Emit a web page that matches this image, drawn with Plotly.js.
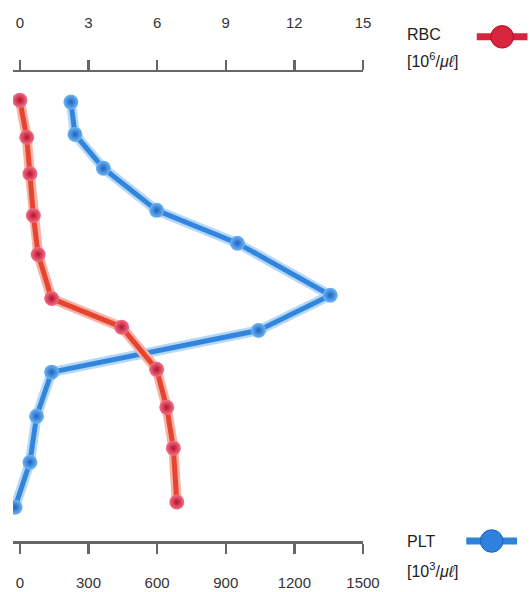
<!DOCTYPE html>
<html>
<head>
<meta charset="utf-8">
<script src="https://cdn.plot.ly/plotly-3.0.1.min.js"></script>
<style>html,body{margin:0;padding:0;background:#fff;}#chart{width:531px;height:592px;}</style>
</head>
<body>
<div id="chart"></div>
<script>
// Position down the column (0 = top axis, 100 = bottom axis)
var rbcLevel = [6.0, 13.9, 21.7, 30.6, 38.9, 48.3, 54.4, 63.4, 71.5, 80.2, 91.7];
var pltLevel = [6.4, 13.3, 20.5, 29.5, 36.5, 47.6, 55.1, 64.0, 73.4, 83.2, 92.8];
// RBC [10^6/μℓ]
var rbcValues = [0.0, 0.3, 0.44, 0.59, 0.8, 1.39, 4.45, 5.98, 6.42, 6.71, 6.86];
// PLT [10^3/μℓ]
var pltValues = [223, 241, 365, 598, 951, 1357, 1043, 139, 73, 44, -21];
var rbcTicks = [0, 3, 6, 9, 12, 15];
var pltTicks = [0, 300, 600, 900, 1200, 1500];

var RED = '#d8243c', RED_LINE = '#e5452f', RED_HALO = '#f6b2a6', RED_HI = '#f47086', RED_DARK = '#b5102c';
var BLUE = '#2f82dc', BLUE_LINE = '#3285dc', BLUE_HALO = '#b5d8f6', BLUE_HI = '#6db6f6', BLUE_DARK = '#1c62be';

var traces = [
  {x: pltValues, y: pltLevel, xaxis: 'x', yaxis: 'y', mode: 'lines', line: {color: BLUE_HALO, width: 10}, hoverinfo: 'skip', showlegend: false},
  {x: pltValues, y: pltLevel, xaxis: 'x', yaxis: 'y', mode: 'lines+markers', name: 'PLT',
   line: {color: BLUE_LINE, width: 5}, marker: {size: 15, color: BLUE_HI, gradient: {type: 'radial', color: BLUE_DARK}, line: {width: 0}}, showlegend: false},
  {x: rbcValues, y: rbcLevel, xaxis: 'x2', yaxis: 'y', mode: 'lines', line: {color: RED_HALO, width: 10}, hoverinfo: 'skip', showlegend: false},
  {x: rbcValues, y: rbcLevel, xaxis: 'x2', yaxis: 'y', mode: 'lines+markers', name: 'RBC',
   line: {color: RED_LINE, width: 5}, marker: {size: 15, color: RED_HI, gradient: {type: 'radial', color: RED_DARK}, line: {width: 0}}, showlegend: false}
];

var axisCommon = {
  showgrid: false, zeroline: false, showline: true, linecolor: '#666', linewidth: 2.5,
  ticks: 'outside', ticklen: 10, tickwidth: 2.5, tickcolor: '#666',
  tickfont: {family: 'Liberation Sans, Arial, sans-serif', size: 15, color: '#333'},
  fixedrange: true
};

var layout = {
  width: 531, height: 592,
  margin: {l: 13, r: 168, t: 72, b: 51},
  paper_bgcolor: '#fff', plot_bgcolor: '#fff',
  showlegend: false,
  xaxis: Object.assign({}, axisCommon, {range: [-30, 1500], tickvals: pltTicks, ticktext: pltTicks.map(String), side: 'bottom', ticklabelstandoff: 16}),
  xaxis2: Object.assign({}, axisCommon, {range: [-0.3, 15], tickvals: rbcTicks, ticktext: rbcTicks.map(String), side: 'top', overlaying: 'x', anchor: 'y', ticklabelstandoff: 26}),
  yaxis: {range: [100, 0], visible: false, showgrid: false, zeroline: false, fixedrange: true},
  annotations: [
    {xref: 'paper', yref: 'paper', x: 1.12, y: 1.08, xanchor: 'left', yanchor: 'middle', showarrow: false, align: 'left',
     text: 'RBC', font: {family: 'Liberation Sans, Arial, sans-serif', size: 16, color: '#222'}},
    {xref: 'paper', yref: 'paper', x: 1.12, y: 1.025, xanchor: 'left', yanchor: 'middle', showarrow: false, align: 'left',
     text: '[10<sup>6</sup>/<i>μℓ</i>]', font: {family: 'Liberation Sans, Arial, sans-serif', size: 16, color: '#222'}},
    {xref: 'paper', yref: 'paper', x: 1.12, y: 0.0, xanchor: 'left', yanchor: 'middle', showarrow: false, align: 'left',
     text: 'PLT', font: {family: 'Liberation Sans, Arial, sans-serif', size: 16, color: '#222'}},
    {xref: 'paper', yref: 'paper', x: 1.12, y: -0.062, xanchor: 'left', yanchor: 'middle', showarrow: false, align: 'left',
     text: '[10<sup>3</sup>/<i>μℓ</i>]', font: {family: 'Liberation Sans, Arial, sans-serif', size: 16, color: '#222'}}
  ],
  shapes: [
    {type: 'line', xref: 'paper', yref: 'paper', x0: 1.325, x1: 1.47, y0: 1.075, y1: 1.075, line: {color: RED, width: 7}},
    {type: 'circle', xref: 'paper', yref: 'paper', x0: 1.365, x1: 1.43, y0: 1.051, y1: 1.099, fillcolor: RED, line: {color: RED_DARK, width: 1}},
    {type: 'line', xref: 'paper', yref: 'paper', x0: 1.295, x1: 1.44, y0: 0.0, y1: 0.0, line: {color: BLUE, width: 7}},
    {type: 'circle', xref: 'paper', yref: 'paper', x0: 1.335, x1: 1.40, y0: -0.024, y1: 0.024, fillcolor: BLUE, line: {color: BLUE_DARK, width: 1}}
  ]
};

Plotly.newPlot('chart', traces, layout, {displayModeBar: false, staticPlot: true});
</script>
</body>
</html>
